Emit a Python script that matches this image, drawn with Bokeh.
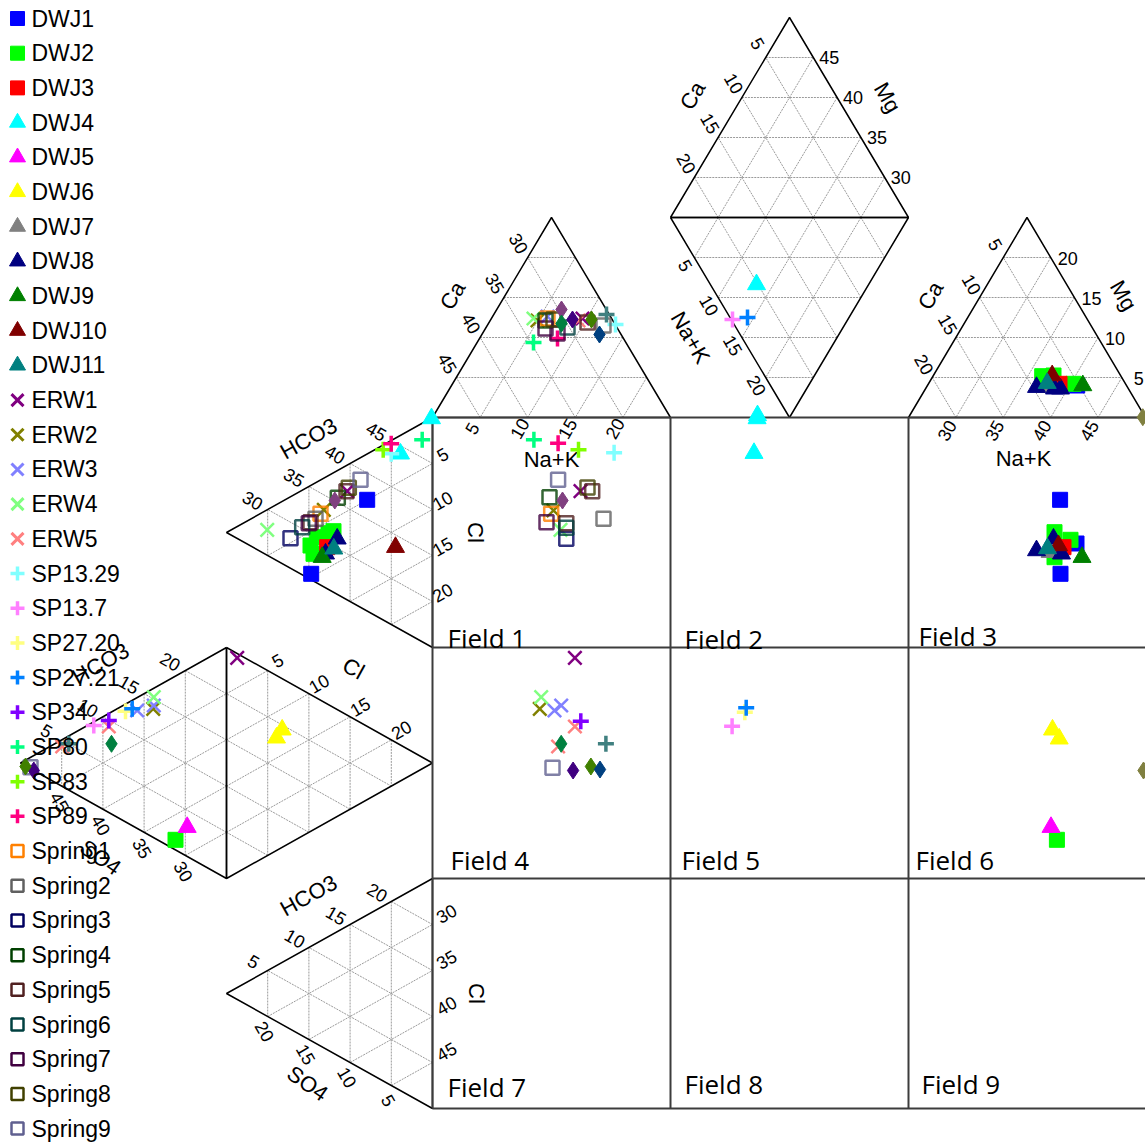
import numpy as np
from bokeh.plotting import figure
from bokeh.models import Range1d, ColumnDataSource
from bokeh.core.properties import value
from bokeh.embed import file_html
from bokeh.resources import INLINE

# ---------------- data (positions, chart units) ----------------
names = ["DWJ1", "DWJ2", "DWJ3", "DWJ4", "DWJ5", "DWJ6", "DWJ7", "DWJ8", "DWJ9", "DWJ10", "DWJ11",
         "ERW1", "ERW2", "ERW3", "ERW4", "ERW5",
         "SP13.29", "SP13.7", "SP27.20", "SP27.21", "SP34", "SP80", "SP83", "SP89",
         "Spring1", "Spring2", "Spring3", "Spring4", "Spring5", "Spring6", "Spring7", "Spring8", "Spring9",
         "", "", "", "", "", "", ""]
markers = ["square"] * 3 + ["triangle"] * 8 + ["x"] * 5 + ["cross"] * 8 + ["square"] * 9 + ["diamond"] * 6 + ["cross"]
filled = [True] * 24 + [False] * 9 + [True] * 7
colors = ["#0000FF", "#00FF00", "#FF0000", "#00FFFF", "#FF00FF", "#FFFF00", "#808080", "#000080", "#008000",
          "#800000", "#008080",
          "#800080", "#808000", "#8080FF", "#80FF80", "#FF8080",
          "#80FFFF", "#FF80FF", "#FFFF80", "#0080FF", "#8000FF", "#00FF80", "#80FF00", "#FF0080",
          "#FF8000", "#606060", "#000060", "#004000", "#502020", "#004040", "#400040", "#404000", "#606090",
          "#804080", "#008040", "#400080", "#408000", "#004080", "#808040", "#408080"]

pts_x = [
    [366.7, 310.7, 1059.6, 1060, 1076, 1076.7],
    [328, 333, 316.7, 310, 313, 1054, 1070, 1054, 1041.7, 1053, 1073, 175, 1056.4],
    [326.7, 1063, 1059],
    [431, 400, 756, 757, 756.6, 753.5],
    [186.7, 1050.5],
    [281.7, 276, 1052, 1058.7],
    [1046.7, 1049.6],
    [336.7, 325, 1053, 1036, 1061, 1036, 1054, 1060],
    [321.7, 1081.5, 1082.3],
    [395, 1051.7, 1058],
    [333.3, 1047, 1046.7],
    [582, 580, 346.7, 236.7, 574.4],
    [537, 553, 323.3, 152.7, 539.3],
    [153.3, 136.7, 554, 560.7, 547],
    [266.7, 560, 153.3, 540.7, 533],
    [108.3, 61.7, 574.4, 557.6, 578],
    [615, 613.6, 390.7],
    [732, 731.6, 93.3],
    [125, 744.3],
    [747, 745.7, 131.7],
    [108.3, 580.3],
    [533, 533.4, 421.7],
    [578, 382.7],
    [557, 557.6, 390.7],
    [547, 550.7, 320],
    [603, 603, 315],
    [565.8, 290],
    [545, 549, 337.3],
    [587, 591.7, 565.8, 346, 310],
    [567, 565.8, 301.7],
    [545, 557, 546, 308.3],
    [553, 587, 348.3],
    [557.6, 360, 552, 30],
    [561, 562, 334.3],
    [561, 111, 560.7],
    [572, 572.6, 33.3],
    [591, 590.4, 25],
    [599, 599.5],
    [1142.3, 1143],
    [606, 605.4, 68.3],
]
pts_y = [
    [499.3, 573.3, 499.3, 573.3, 543, 385],
    [532.7, 530.7, 536.7, 545, 553.3, 531.7, 539.3, 556.7, 375.7, 375, 383.3, 839.3, 839.3],
    [546.7, 546.7, 383.3],
    [418, 453.3, 284, 415, 418, 452.7],
    [826.7, 826.7],
    [729.3, 737.3, 729.3, 738.3],
    [386.7, 551.7],
    [538.3, 553.3, 538.3, 550, 553.3, 386.7, 388.3, 388.3],
    [556.7, 556.7, 385],
    [546.7, 375, 545],
    [548.3, 548, 382.7],
    [318, 490.7, 490.7, 657.3, 657.3],
    [320, 510, 509.3, 708.3, 708.3],
    [705, 710, 710, 705, 316],
    [529.3, 529.3, 696.7, 696.7, 318],
    [726, 746, 726, 746, 320],
    [324, 452.3, 453.3],
    [319, 725.7, 725],
    [710.7, 711.7],
    [317, 707.3, 708.3],
    [720, 720.7],
    [342, 439.3, 439.3],
    [449.3, 449.3],
    [338, 442.7, 443.3],
    [318, 513.3, 513.3],
    [325, 518.3, 518.3],
    [538.3, 537.7],
    [320, 496.7, 497.3],
    [322, 490.7, 522.7, 490.7, 521.7],
    [327, 527.3, 526.7],
    [328, 333, 521.7, 522.7],
    [319, 487, 487.3],
    [479.3, 479.3, 767.3, 766.7],
    [309, 500, 500],
    [323, 743.3, 743.3],
    [319, 770, 770],
    [319, 766, 766],
    [334, 769],
    [416.7, 770],
    [314, 743.3, 743.3],
]

field_labels = ["Field 1", "Field 2", "Field 3", "Field 4", "Field 5", "Field 6", "Field 7", "Field 8", "Field 9"]

# ---------------- layout geometry ----------------
W, H = 1145, 1142
p = figure(width=W, height=H, x_range=Range1d(0, 1145), y_range=Range1d(1142, 0),
           output_backend="svg", toolbar_location=None, min_border=0)
p.axis.visible = False
p.grid.visible = False
p.outline_line_color = None
p.background_fill_color = "white"
p.border_fill_color = "white"

X0, X1, X2, X3 = 432, 670, 908, 1145
Y0, Y1, Y2, Y3 = 417, 647, 878, 1108

triangles = [
    [(432, 417), (670, 417), (551, 217)],       # cation triangle
    [(670, 217), (908, 217), (789, 17)],        # cation diamond upper
    [(670, 217), (908, 217), (789, 417)],       # cation diamond lower
    [(908, 417), (1145, 417), (1026.5, 217)],   # right triangle
    [(432, 417), (432, 647), (226, 532)],       # anion triangle
    [(226, 647), (226, 878), (20, 762.5)],      # anion diamond left
    [(226, 647), (226, 878), (432, 762.5)],     # anion diamond right
    [(432, 878), (432, 1108), (226, 993)],      # bottom triangle
]

gx0, gy0, gx1, gy1 = [], [], [], []
for tri in triangles:
    A, B, C = [np.array(v, float) for v in tri]
    for k in range(1, 5):
        t = k / 5
        for (P, Q, R) in [(A, B, C), (B, C, A), (C, A, B)]:
            s = P + t * (R - P)
            e = Q + t * (R - Q)
            gx0.append(s[0]); gy0.append(s[1]); gx1.append(e[0]); gy1.append(e[1])
p.segment(gx0, gy0, gx1, gy1, line_color="#9a9a9a", line_width=1, line_dash="2 1")

for tri in triangles:
    xs = [v[0] for v in tri] + [tri[0][0]]
    ys = [v[1] for v in tri] + [tri[0][1]]
    p.line(xs, ys, line_color="black", line_width=1.5)

# field grid
p.segment([X0, X1, X2], [Y0] * 3, [X0, X1, X2], [Y3] * 3, line_color="#3c3c3c", line_width=2)
p.segment([X0] * 4, [Y0, Y1, Y2, Y3], [X3] * 4, [Y0, Y1, Y2, Y3], line_color="#3c3c3c", line_width=2)

# field labels
fx = [447, 684, 918, 450, 681, 915, 447, 684, 921]
fy = [637, 638, 635, 859, 859, 859, 1086, 1083, 1083]
p.text(fx, fy, text=field_labels, text_font=value("Open Sans"), text_font_size="26px",
       text_align="left", text_baseline="middle", text_color="black")

# axis tick labels
def edge_labels(P0, P1, texts, off, angle):
    P0 = np.array(P0, float); P1 = np.array(P1, float)
    out = []
    for i, t in enumerate(texts):
        f = (i + 1) / 5
        q = P0 + f * (P1 - P0)
        out.append((t, q[0] + off[0], q[1] + off[1], angle))
    return out

ticks = []
ticks += edge_labels((432, 417), (551, 217), ["45", "40", "35", "30"], (-9, -14), -60)
ticks += edge_labels((432, 417), (670, 417), ["5", "10", "15", "20"], (-8, 11), 60)
ticks += edge_labels((226, 532), (432, 417), ["30", "35", "40", "45"], (-15, -9), -30)
ticks += edge_labels((432, 417), (432, 647), ["5", "10", "15", "20"], (10, -9), 30)
ticks += edge_labels((20, 762.5), (226, 647), ["5", "10", "15", "20"], (-15, -9), -30)
ticks += edge_labels((226, 647), (432, 762.5), ["5", "10", "15", "20"], (10, -10), 30)
ticks += edge_labels((20, 762.5), (226, 878), ["45", "40", "35", "30"], (-2, 16), -60)
ticks += edge_labels((226, 993), (432, 878), ["5", "10", "15", "20"], (-14, -9), -30)
ticks += edge_labels((226, 993), (432, 1108), ["20", "15", "10", "5"], (-3, 15), -60)
ticks += edge_labels((432, 878), (432, 1108), ["30", "35", "40", "45"], (14, -11), 30)
ticks += edge_labels((670, 217), (789, 17), ["20", "15", "10", "5"], (-8, -14), -60)
ticks += edge_labels((789, 17), (908, 217), ["45", "40", "35", "30"], (16, 0), 0)
ticks += edge_labels((670, 217), (789, 417), ["5", "10", "15", "20"], (-9, 8), -60)
ticks += edge_labels((908, 417), (1026.5, 217), ["20", "15", "10", "5"], (-8, -13), -60)
ticks += edge_labels((1026.5, 217), (1145, 417), ["20", "15", "10", "5"], (17, 1), 0)
ticks += edge_labels((908, 417), (1145, 417), ["30", "35", "40", "45"], (-9, 13), 60)

tsrc = ColumnDataSource(dict(t=[a[0] for a in ticks], x=[a[1] for a in ticks], y=[a[2] for a in ticks],
                             a=[np.deg2rad(a[3]) for a in ticks]))
p.text("x", "y", text="t", angle="a", source=tsrc, text_font=value("Liberation Sans"),
       text_font_size="18px", text_align="center", text_baseline="middle", text_color="black")

titles = [("Ca", 452, 295, 60), ("Na+K", 551, 459, 0), ("HCO3", 308, 438, 29), ("Cl", 475, 532, -90),
          ("HCO3", 100, 663, 29), ("Cl", 353, 668, -29), ("SO4", 100, 857, -35),
          ("HCO3", 308, 895, 29), ("SO4", 307, 1083, -35), ("Cl", 476, 993, -90),
          ("Ca", 692, 95, 60), ("Mg", 887, 97, -60), ("Na+K", 690, 337, -60),
          ("Ca", 930, 295, 60), ("Mg", 1123, 295, -60), ("Na+K", 1023, 458, 0)]
asrc = ColumnDataSource(dict(t=[a[0] for a in titles], x=[a[1] for a in titles], y=[a[2] for a in titles],
                             a=[np.deg2rad(a[3]) for a in titles]))
p.text("x", "y", text="t", angle="a", source=asrc, text_font=value("Liberation Sans"),
       text_font_size="22px", text_align="center", text_baseline="middle", text_color="black")

# ---------------- data markers ----------------
msize = {"square": 15, "triangle": 18, "diamond": 17, "x": 19, "cross": 16}
for nm, mk, col, fl, xs, ys in zip(names, markers, colors, filled, pts_x, pts_y):
    if mk == "x":
        p.scatter(xs, ys, marker=mk, size=msize[mk], line_color=col, line_width=2.5, fill_color=None)
    elif mk == "cross":
        p.scatter(xs, ys, marker=mk, size=msize[mk], line_color=col, line_width=3.5, fill_color=None)
    elif fl:
        p.scatter(xs, ys, marker=mk, size=msize[mk], fill_color=col, line_color=col, line_width=1)
    else:
        p.scatter(xs, ys, marker=mk, size=14, fill_color=None, line_color=col, line_width=2.5,
                  line_alpha=0.8)

# ---------------- legend ----------------
leg_y0, leg_dy = 18, 34.69
for i, (nm, mk, col, fl) in enumerate(zip(names, markers, colors, filled)):
    if not nm:
        continue
    ly = leg_y0 + i * leg_dy
    if mk == "x":
        p.scatter([17], [ly], marker=mk, size=17, line_color=col, line_width=3, fill_color=None)
    elif mk == "cross":
        p.scatter([17], [ly], marker=mk, size=14, line_color=col, line_width=3.5, fill_color=None)
    elif mk == "triangle":
        p.scatter([17], [ly], marker=mk, size=16, fill_color=col, line_color=col)
    elif fl:
        p.scatter([17], [ly], marker=mk, size=14, fill_color=col, line_color=col)
    else:
        p.scatter([17], [ly], marker=mk, size=12, fill_color=None, line_color=col, line_width=2.5)
    p.text([31], [ly], text=[nm], text_font=value("Liberation Sans"), text_font_size="23px",
           text_align="left", text_baseline="middle", text_color="black")

open("out.html", "w").write(file_html(p, INLINE))
